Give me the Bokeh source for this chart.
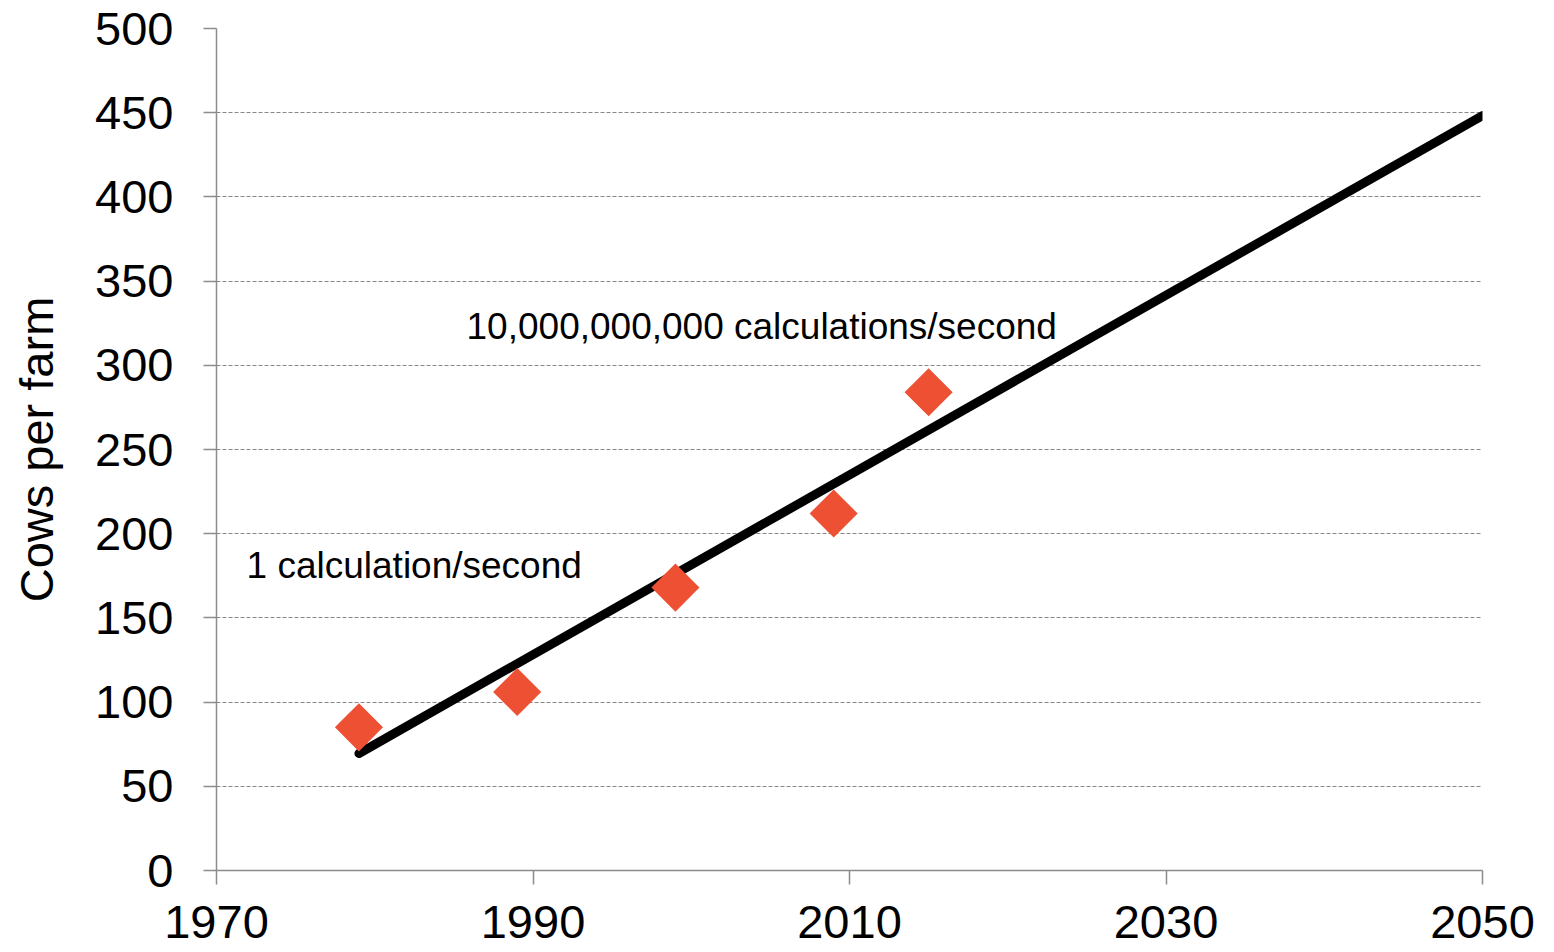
import numpy as np
from bokeh.plotting import figure
from bokeh.models import Range1d, FixedTicker, ColumnDataSource
from bokeh.core.properties import value
from bokeh.embed import file_html
from bokeh.resources import INLINE

# Data
years = [1979, 1989, 1999, 2009, 2015]
cows = [85, 106, 168, 212, 284]
trend_years = [1979, 2050]
trend_cows = [69.5, 448.3]
x_ticks = [1970, 1990, 2010, 2030, 2050]
y_ticks = [0, 50, 100, 150, 200, 250, 300, 350, 400, 450, 500]
ann_text = ["10,000,000,000 calculations/second", "1 calculation/second"]
ann_x = [1985.8, 1971.9]
ann_y = [323, 181]

FONT = "Liberation Sans"

p = figure(width=1550, height=950, output_backend="svg", toolbar_location=None,
           x_range=Range1d(1970, 2050), y_range=Range1d(0, 500),
           min_border_left=216, min_border_right=68, min_border_top=28, min_border_bottom=80)
p.frame_width = 1266
p.frame_height = 842
p.outline_line_color = None
p.background_fill_color = "white"

# axes
for ax in (p.xaxis[0], p.yaxis[0]):
    ax.axis_line_color = "#8c8c8c"
    ax.axis_line_width = 1.5
    ax.major_tick_line_color = "#8c8c8c"
    ax.major_tick_line_width = 1.5
    ax.major_tick_in = 0
    ax.minor_tick_line_color = None
    ax.major_label_text_font = FONT
    ax.major_label_text_font_size = "47px"
    ax.major_label_text_color = "black"

p.xaxis.ticker = FixedTicker(ticks=x_ticks)
p.yaxis.ticker = FixedTicker(ticks=y_ticks)
p.xaxis.major_tick_out = 14
p.yaxis.major_tick_out = 13
p.xaxis.major_label_standoff = 21
p.yaxis.major_label_standoff = 30

p.yaxis.axis_label = "Cows per farm"
p.yaxis.axis_label_text_font = FONT
p.yaxis.axis_label_text_font_size = "47px"
p.yaxis.axis_label_text_font_style = "normal"
p.yaxis.axis_label_text_color = "black"
p.yaxis.axis_label_standoff = 29

p.xgrid.grid_line_color = None
p.ygrid.grid_line_color = "#888888"
p.ygrid.grid_line_width = 1.2
p.ygrid.grid_line_dash = "4 2"

# trend line
p.line(trend_years, trend_cows, line_color="black", line_width=9, line_cap="round")

# diamonds
p.scatter(years, cows, marker="square", size=34, angle=np.pi / 4,
          fill_color="#EE5033", line_color=None)

# annotations
src = ColumnDataSource(dict(x=ann_x, y=ann_y, t=ann_text))
p.text(x="x", y="y", text="t", source=src, text_font=value(FONT),
       text_font_size="37px", text_baseline="middle", text_align="left",
       text_color="black")

open("out.html", "w").write(file_html(p, INLINE))
